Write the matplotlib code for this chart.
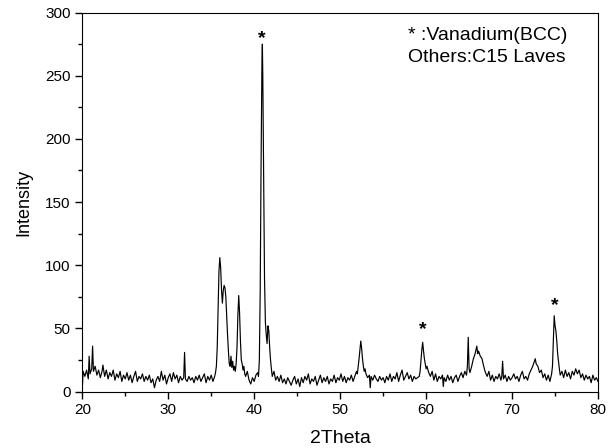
import matplotlib
matplotlib.use("Agg")
import matplotlib.pyplot as plt
from matplotlib.ticker import MultipleLocator

plt.rcParams["font.family"] = ["Liberation Sans", "DejaVu Sans"]

# XRD scan (2theta in degrees, intensity in counts)
two_theta = [
    20.0, 20.1, 20.3, 20.5, 20.7, 20.8, 20.9, 21.1, 21.2, 21.3, 21.5, 21.7, 21.9,
    22.1, 22.3, 22.4, 22.6, 22.8, 23.0, 23.2, 23.4, 23.6, 23.8, 24.0, 24.2, 24.4,
    24.6, 24.8, 25.0, 25.2, 25.4, 25.6, 25.8, 26.0, 26.2, 26.4, 26.6, 26.8, 27.0,
    27.2, 27.4, 27.6, 27.8, 28.0, 28.2, 28.4, 28.6, 28.8, 29.0, 29.2, 29.4, 29.6,
    29.8, 30.0, 30.2, 30.4, 30.6, 30.8, 31.0, 31.2, 31.4, 31.6, 31.8, 31.9, 32.0,
    32.2, 32.4, 32.6, 32.8, 33.0, 33.2, 33.4, 33.6, 33.8, 34.0, 34.2, 34.4, 34.6,
    34.8, 35.0, 35.2, 35.4,
    35.5, 35.6, 35.7, 35.8, 35.9, 36.0, 36.1, 36.2, 36.3, 36.4, 36.5, 36.6, 36.7,
    36.8, 36.9, 37.0, 37.1, 37.2, 37.3, 37.4, 37.5, 37.6, 37.7, 37.8, 37.9, 38.0,
    38.1, 38.2, 38.3, 38.4, 38.5, 38.6, 38.7, 38.8, 38.9, 39.0, 39.2, 39.4, 39.6,
    39.8, 40.0, 40.2, 40.4, 40.5, 40.6, 40.7, 40.8, 40.9, 40.95, 41.0, 41.1, 41.2,
    41.3, 41.4, 41.5, 41.6, 41.7, 41.8, 41.9, 42.0, 42.1, 42.3, 42.5, 42.7, 42.9,
    43.1, 43.3, 43.5, 43.7, 43.9, 44.1, 44.3, 44.5, 44.7, 44.9, 45.1, 45.3, 45.5,
    45.7, 45.9, 46.1, 46.3, 46.5, 46.7, 46.9, 47.1, 47.3, 47.5, 47.7, 47.9, 48.1,
    48.3, 48.5, 48.7, 48.9, 49.1, 49.3, 49.5, 49.7, 49.9, 50.1, 50.3, 50.5, 50.7,
    50.9, 51.1, 51.3, 51.5, 51.7, 51.9, 52.0, 52.1, 52.2, 52.3, 52.4, 52.5, 52.6,
    52.7, 52.8, 52.9, 53.0, 53.2, 53.4, 53.5, 53.6, 53.8, 54.0, 54.2, 54.4, 54.6,
    54.8, 55.0, 55.2, 55.4, 55.6, 55.8, 56.0, 56.2, 56.4, 56.6, 56.8, 57.0, 57.2,
    57.4, 57.6, 57.8, 58.0, 58.2, 58.4, 58.6, 58.8, 59.0, 59.2, 59.3, 59.4, 59.5,
    59.6, 59.7, 59.8, 59.9, 60.0, 60.1, 60.3, 60.5, 60.7, 60.9, 61.1, 61.3, 61.5,
    61.7, 61.9, 62.0, 62.1, 62.3, 62.5, 62.7, 62.9, 63.1, 63.3, 63.5, 63.7, 63.9,
    64.1, 64.3, 64.5, 64.7, 64.8, 64.9, 65.0, 65.1, 65.3, 65.5, 65.7, 65.8, 65.9,
    66.0, 66.1, 66.3, 66.5, 66.7, 66.9, 67.1, 67.3, 67.5, 67.7, 67.9, 68.1, 68.3,
    68.5, 68.7, 68.8, 68.9, 69.0, 69.2, 69.4, 69.6, 69.8, 70.0, 70.2, 70.4, 70.6,
    70.8, 71.0, 71.2, 71.4, 71.6, 71.8, 72.0, 72.2, 72.4, 72.6, 72.7, 72.8, 73.0,
    73.2, 73.4, 73.6, 73.8, 74.0, 74.2, 74.4, 74.6, 74.7, 74.8, 74.9, 75.0, 75.1,
    75.2, 75.3, 75.4, 75.5, 75.6, 75.8, 76.0, 76.2, 76.4, 76.6, 76.8, 77.0, 77.2,
    77.4, 77.6, 77.8, 78.0, 78.2, 78.4, 78.6, 78.8, 79.0, 79.2, 79.4, 79.6, 79.8,
    80.0,
]

intensity = [
    2, 16, 12, 17, 10, 28, 14, 18, 36, 16, 20, 13, 17,
    11, 16, 21, 12, 17, 10, 15, 12, 17, 9, 14, 11, 16,
    8, 13, 10, 15, 9, 13, 7, 12, 16, 8, 12, 10, 14,
    8, 12, 9, 13, 7, 10, 3, 9, 12, 8, 16, 9, 13,
    6, 11, 14, 8, 15, 10, 13, 7, 12, 9, 11, 31, 10,
    8, 12, 9, 11, 7, 12, 9, 13, 8, 11, 14, 7, 12,
    9, 13, 8, 12,
    15, 20, 35, 65, 95, 106, 98, 80, 70, 80, 84, 82, 75,
    60, 45, 32, 22, 20, 28, 19, 24, 17, 20, 16, 22, 35,
    60, 76, 62, 40, 25, 22, 17, 20, 14, 12, 16, 9, 6,
    11, 8, 13, 15, 12, 25, 80, 180, 260, 275, 250, 170, 90,
    55, 45, 38, 52, 48, 35, 25, 18, 12, 16, 9, 12, 8,
    13, 7, 10, 6, 11, 8, 5, 9, 12, 6, 10, 4, 11,
    7, 12, 9, 14, 6, 10, 8, 12, 5, 9, 13, 7, 11,
    8, 12, 6, 10, 8, 13, 7, 11, 9, 14, 8, 12, 7,
    11, 9, 13, 8, 12, 16, 14, 20, 26, 33, 40, 34, 26,
    20, 16, 18, 14, 11, 13, 3, 12, 9, 13, 10, 8, 12,
    9, 11, 7, 12, 9, 14, 8, 12, 10, 15, 8, 13, 17,
    9, 12, 15, 10, 13, 8, 12, 10, 11, 12, 16, 25, 33,
    39, 32, 26, 22, 18, 20, 15, 12, 16, 9, 14, 8, 12,
    10, 13, 4, 11, 8, 13, 9, 12, 7, 11, 13, 8, 12,
    15, 11, 16, 13, 20, 43, 18, 15, 20, 26, 30, 33, 36,
    30, 32, 28, 26, 20, 15, 12, 16, 9, 13, 8, 12, 10,
    14, 9, 12, 24, 10, 13, 8, 12, 9, 11, 14, 10, 12,
    8, 13, 16, 10, 12, 9, 14, 17, 20, 24, 26, 22, 20,
    15, 17, 11, 14, 9, 13, 8, 14, 20, 40, 60, 52, 48,
    40, 30, 24, 18, 13, 16, 11, 17, 12, 15, 10, 16, 13,
    18, 14, 17, 11, 14, 9, 13, 10, 12, 7, 13, 9, 11,
    8,
]

# vanadium (BCC) peaks marked with a star
star_x = [40.93, 59.6, 74.95]
star_y = [279, 49, 68]

fig = plt.figure(figsize=(6.14, 4.48), dpi=100)
ax = fig.add_axes([0.134, 0.126, 0.84, 0.846])

ax.plot(two_theta, intensity, color="black", linewidth=0.85)

for sx, sy in zip(star_x, star_y):
    ax.text(sx, sy, "*", ha="center", va="center", fontsize=14, fontweight="bold")

ax.text(57.9, 282, "* :Vanadium(BCC)", ha="left", va="center", fontsize=14)
ax.text(57.9, 264.5, "Others:C15 Laves", ha="left", va="center", fontsize=14)

ax.set_xlim(20, 80)
ax.set_ylim(0, 300)
ax.xaxis.set_major_locator(MultipleLocator(10))
ax.xaxis.set_minor_locator(MultipleLocator(5))
ax.yaxis.set_major_locator(MultipleLocator(50))
ax.yaxis.set_minor_locator(MultipleLocator(25))
ax.tick_params(which="major", direction="out", length=5, width=1, labelsize=11)
ax.tick_params(which="minor", direction="out", length=3, width=1)

ax.set_xlabel("2Theta", fontsize=14, labelpad=9)
ax.set_ylabel("Intensity", fontsize=13, labelpad=9)

fig.savefig("out.png", dpi=100)
